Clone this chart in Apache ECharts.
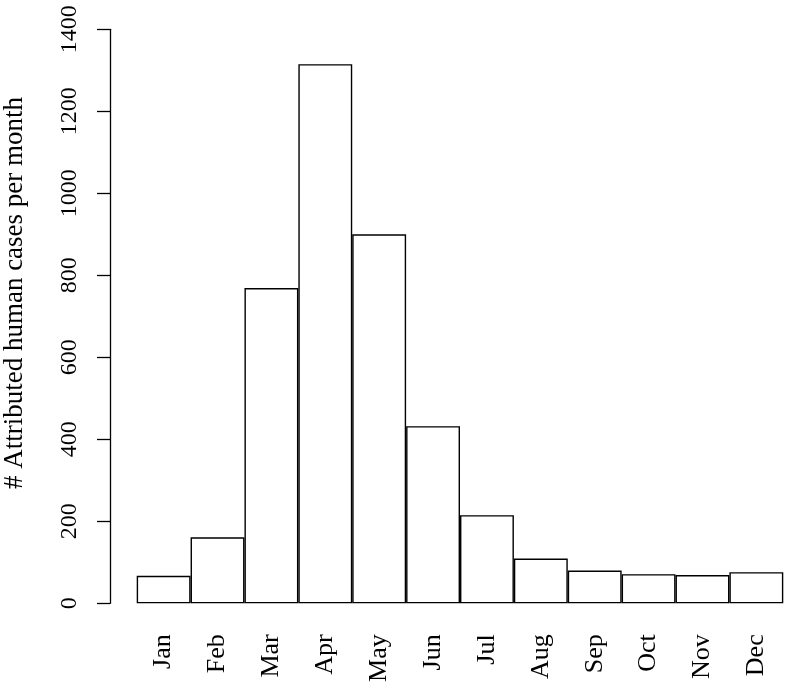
<!DOCTYPE html>
<html>
<head>
<meta charset="utf-8">
<script src="https://cdn.jsdelivr.net/npm/echarts@6/dist/echarts.min.js"></script>
<style>
html,body{margin:0;padding:0;background:#fff;}
#chart{width:787px;height:683px;}
</style>
</head>
<body>
<div id="chart"></div>
<script>
var months = ['Jan','Feb','Mar','Apr','May','Jun','Jul','Aug','Sep','Oct','Nov','Dec'];
var cases = [67, 161, 769, 1315, 900, 432, 215, 109, 80, 71, 69, 76];
var yTicks = [0, 200, 400, 600, 800, 1000, 1200, 1400];
var yTitle = '# Attributed human cases per month';

var font = '"Liberation Serif", "Times New Roman", serif';
var chart = echarts.init(document.getElementById('chart'), null, {renderer: 'canvas'});
chart.setOption({
  animation: false,
  backgroundColor: '#fff',
  grid: {left: 136.7, right: 3.7, top: 29.3, bottom: 79.7, containLabel: false, outerBoundsMode: 'none'},
  graphic: [{
    type: 'text',
    x: 15,
    y: 293,
    rotation: Math.PI / 2,
    style: {
      text: yTitle,
      fill: '#000',
      fontFamily: font,
      fontSize: 27,
      textAlign: 'center',
      textVerticalAlign: 'middle'
    }
  }],
  xAxis: {
    type: 'category',
    data: months,
    boundaryGap: true,
    axisLine: {show: false},
    axisTick: {show: false},
    splitLine: {show: false},
    axisLabel: {
      rotate: 90,
      margin: 31,
      interval: 0,
      color: '#000',
      fontFamily: font,
      fontSize: 26
    }
  },
  yAxis: {
    type: 'value',
    min: yTicks[0],
    max: yTicks[yTicks.length - 1],
    interval: yTicks[1] - yTicks[0],
    offset: 26.7,
    axisLine: {show: true, lineStyle: {color: '#000', width: 1.3}},
    axisTick: {show: true, length: 13, lineStyle: {color: '#000', width: 1.3}},
    splitLine: {show: false},
    axisLabel: {
      rotate: 90,
      margin: 28,
      color: '#000',
      fontFamily: font,
      fontSize: 24,
      formatter: function (v) { return String(v); }
    }
  },
  series: [{
    type: 'bar',
    data: cases,
    barWidth: '100%',
    barCategoryGap: '0%',
    itemStyle: {color: '#fff', borderColor: '#000', borderWidth: 1.4}
  }]
});
</script>
</body>
</html>
